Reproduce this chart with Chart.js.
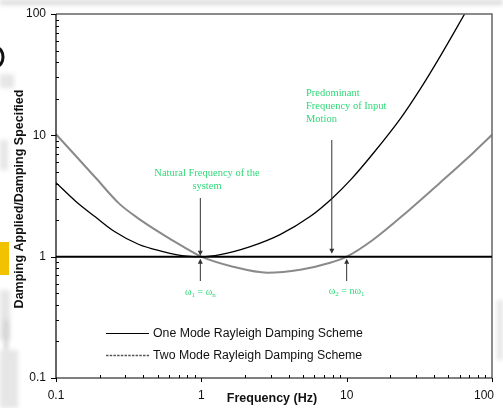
<!DOCTYPE html>
<html>
<head>
<meta charset="utf-8">
<script src="https://cdn.jsdelivr.net/npm/chart.js@4.4.1/dist/chart.umd.min.js"></script>
<style>
  html, body { margin: 0; padding: 0; background: #fff; }
  #wrap { width: 503px; height: 408px; position: relative; }
  canvas { display: block; }
</style>
</head>
<body>
<div id="wrap"><canvas id="c" width="503" height="408"></canvas></div>
<script>
// Axis ticks (log decades)
const frequencyTicks = [0.1, 1, 10, 100];
const ratioTicks = [0.1, 1, 10, 100];

// One Mode Rayleigh Damping Scheme
const oneModeFreq  = [0.1, 0.137, 0.188, 0.251, 0.372, 0.545, 0.67, 0.8, 1.0, 1.35, 2.17, 3.48, 5.6, 7.93, 10.6, 15.2, 23.5, 31.8, 43.9, 65.4];
const oneModeRatio = [4.07, 2.85, 2.11, 1.62, 1.26, 1.10, 1.04, 1.01, 1.0, 1.04, 1.21, 1.52, 2.14, 3.02, 4.27, 7.08, 13.8, 23.7, 44.6, 102];

// Two Mode Rayleigh Damping Scheme
const twoModeFreq  = [0.1, 0.137, 0.188, 0.271, 0.372, 0.545, 0.75, 1.0, 1.65, 2.85, 4.8, 7.7, 10.0, 15.2, 26.1, 43.9, 74.4, 100];
const twoModeRatio = [10.2, 6.75, 4.45, 2.75, 2.05, 1.52, 1.21, 1.0, 0.827, 0.738, 0.78, 0.89, 1.0, 1.38, 2.35, 4.07, 7.2, 10.1];

// Reference level and marked frequencies
const specifiedRatio = 1;
const naturalFreq = 1;      // ω1 = ωn
const inputFreq = 7.9;      // predominant input frequency
const secondFreq = 10;      // ω2 = nω1

const legendLabels = ['One Mode Rayleigh Damping Scheme', 'Two Mode Rayleigh Damping Scheme'];

const toPoints = (xs, ys) => xs.map((x, i) => ({ x: x, y: ys[i] }));

const GREEN = '#2fd877';
const SANS = '"Liberation Sans", Arial, sans-serif';
const SERIF = '"Liberation Serif", "Times New Roman", serif';

function arrow(ctx, x, yFrom, yTip) {
  const d = yTip > yFrom ? 1 : -1;
  ctx.save();
  ctx.strokeStyle = '#333';
  ctx.fillStyle = '#333';
  ctx.lineWidth = 1;
  ctx.beginPath();
  ctx.moveTo(x, yFrom);
  ctx.lineTo(x, yTip - d * 2);
  ctx.stroke();
  ctx.beginPath();
  ctx.moveTo(x - 2.5, yTip - 5 * d);
  ctx.lineTo(x, yTip);
  ctx.lineTo(x + 2.5, yTip - 5 * d);
  ctx.closePath();
  ctx.fill();
  ctx.restore();
}

// draws text pieces with optional subscripts, centred on cx
function subText(ctx, parts, cx, cy, size) {
  const big = size + 'px ' + SERIF;
  const small = Math.round(size * 0.7) + 'px ' + SERIF;
  let w = 0;
  parts.forEach(p => { ctx.font = p[1] ? small : big; w += ctx.measureText(p[0]).width; });
  let x = cx - w / 2;
  ctx.textAlign = 'left';
  ctx.textBaseline = 'middle';
  parts.forEach(p => {
    ctx.font = p[1] ? small : big;
    ctx.fillText(p[0], x, p[1] ? cy + 3 : cy);
    x += ctx.measureText(p[0]).width;
  });
}

const decorations = {
  id: 'decorations',
  beforeDraw(chart) {
    const ctx = chart.ctx;
    const W = chart.width, H = chart.height;
    ctx.save();
    ctx.fillStyle = '#ffffff';
    ctx.fillRect(0, 0, W, H);
    // faint backdrop around the frame
    ctx.filter = 'blur(2px)';
    ctx.fillStyle = '#dcdcdc';
    ctx.fillRect(0, 0, W, 5);
    ctx.fillStyle = '#e6e6e6';
    ctx.fillRect(0, 74, 14, 14);
    ctx.fillRect(0, 140, 8, 30);
    ctx.fillRect(0, 290, 10, 50);
    ctx.fillRect(0, 350, 18, 58);
    ctx.fillRect(497, 300, 6, 60);
    ctx.fillStyle = '#d0d0d0';
    ctx.fillRect(4, 320, 4, 30);
    ctx.filter = 'none';
    ctx.fillStyle = '#f2c200';
    ctx.fillRect(0, 242, 9, 33);
    ctx.strokeStyle = '#111';
    ctx.lineWidth = 3;
    ctx.beginPath();
    ctx.ellipse(-3, 57, 6, 9, 0, -Math.PI / 2, Math.PI / 2);
    ctx.stroke();
    ctx.restore();
  },
  afterDatasetsDraw(chart) {
    const ctx = chart.ctx;
    const xs = chart.scales.x, ys = chart.scales.y;
    const a = chart.chartArea;
    ctx.save();

    // frame: light top/right edges, black axes
    ctx.strokeStyle = '#666';
    ctx.lineWidth = 1.5;
    ctx.beginPath();
    ctx.moveTo(a.left, a.top); ctx.lineTo(a.right, a.top); ctx.lineTo(a.right, a.bottom);
    ctx.stroke();
    ctx.strokeStyle = '#000';
    ctx.lineWidth = 1.2;
    ctx.beginPath();
    ctx.moveTo(a.left, a.top); ctx.lineTo(a.left, a.bottom); ctx.lineTo(a.right, a.bottom);
    ctx.stroke();

    // minor and major ticks
    ctx.lineWidth = 1;
    ctx.beginPath();
    for (let d = 0; d < ratioTicks.length - 1; d++) {
      for (let k = 2; k <= 9; k++) {
        const py = Math.round(ys.getPixelForValue(ratioTicks[d] * k)) + 0.5;
        ctx.moveTo(a.left, py); ctx.lineTo(a.left + 3, py);
      }
    }
    for (let d = 0; d < frequencyTicks.length - 1; d++) {
      for (let k = 2; k <= 9; k++) {
        const px = Math.round(xs.getPixelForValue(frequencyTicks[d] * k)) + 0.5;
        ctx.moveTo(px, a.bottom); ctx.lineTo(px, a.bottom - 3);
      }
    }
    ratioTicks.forEach(v => {
      const py = Math.round(ys.getPixelForValue(v)) + 0.5;
      ctx.moveTo(a.left - 5, py); ctx.lineTo(a.left, py);
    });
    frequencyTicks.forEach(v => {
      const px = Math.round(xs.getPixelForValue(v)) + 0.5;
      ctx.moveTo(px, a.bottom); ctx.lineTo(px, a.bottom + 4);
    });
    ctx.stroke();

    // tick labels
    ctx.fillStyle = '#111';
    ctx.font = '12px ' + SANS;
    ctx.textAlign = 'right';
    ctx.textBaseline = 'middle';
    ratioTicks.forEach(v => ctx.fillText(String(v), a.left - 10, ys.getPixelForValue(v)));
    ctx.textAlign = 'center';
    frequencyTicks.forEach((v, i) => {
      let px = xs.getPixelForValue(v);
      if (i === frequencyTicks.length - 1) px -= 8;
      ctx.fillText(String(v), px, 396);
    });

    // axis titles
    ctx.font = 'bold 12.5px ' + SANS;
    ctx.fillText('Frequency (Hz)', 272, 399);
    ctx.save();
    ctx.translate(20, 199);
    ctx.rotate(-Math.PI / 2);
    ctx.fillText('Damping Applied/Damping Specified', 0, 0);
    ctx.restore();

    // specified-damping reference line
    const y1 = ys.getPixelForValue(specifiedRatio);
    ctx.strokeStyle = '#000';
    ctx.lineWidth = 2;
    ctx.beginPath();
    ctx.moveTo(a.left, y1); ctx.lineTo(a.right, y1);
    ctx.stroke();

    // annotations
    const xn = xs.getPixelForValue(naturalFreq) - 1;
    const xi = xs.getPixelForValue(inputFreq);
    const x2 = xs.getPixelForValue(secondFreq);
    arrow(ctx, xn, 198, y1 - 1);
    arrow(ctx, xn, 281, y1 + 2);
    arrow(ctx, xi, 140, y1 - 3);
    arrow(ctx, x2, 281, y1 + 2);

    ctx.fillStyle = GREEN;
    ctx.font = '10.5px ' + SERIF;
    ctx.textAlign = 'center';
    ctx.textBaseline = 'middle';
    ctx.fillText('Natural Frequency of the', 207, 173);
    ctx.fillText('system', 207, 186);
    ctx.textAlign = 'left';
    ctx.fillText('Predominant', 306, 93);
    ctx.fillText('Frequency of Input', 306, 106);
    ctx.fillText('Motion', 306, 119);
    subText(ctx, [['ω', false], ['1', true], [' = ω', false], ['n', true]], xn, 292, 10);
    subText(ctx, [['ω', false], ['2', true], [' = nω', false], ['1', true]], x2, 291, 10);

    // legend
    const ds = chart.data.datasets;
    const rows = [333.5, 355.5];
    ds.forEach((d, i) => {
      ctx.save();
      ctx.strokeStyle = i === 0 ? '#000' : '#555';
      ctx.lineWidth = i === 0 ? 1 : 1.6;
      if (i === 1) ctx.setLineDash([2.5, 1.2]);
      ctx.beginPath();
      ctx.moveTo(106, rows[i]); ctx.lineTo(149, rows[i]);
      ctx.stroke();
      ctx.restore();
      ctx.fillStyle = '#111';
      ctx.font = '12.3px ' + SANS;
      ctx.textAlign = 'left';
      ctx.textBaseline = 'middle';
      ctx.fillText(d.label, 153, rows[i]);
    });

    ctx.restore();
  }
};

new Chart(document.getElementById('c'), {
  type: 'line',
  data: {
    datasets: [
      {
        label: legendLabels[0],
        data: toPoints(oneModeFreq, oneModeRatio),
        borderColor: '#000',
        borderWidth: 1.3,
        pointRadius: 0,
        cubicInterpolationMode: 'monotone',
        fill: false
      },
      {
        label: legendLabels[1],
        data: toPoints(twoModeFreq, twoModeRatio),
        borderColor: '#8a8a8a',
        borderWidth: 2,
        pointRadius: 0,
        cubicInterpolationMode: 'monotone',
        fill: false
      }
    ]
  },
  options: {
    responsive: false,
    animation: false,
    devicePixelRatio: 1,
    layout: { padding: { left: 56, right: 11, top: 14, bottom: 30 } },
    plugins: { legend: { display: false }, tooltip: { enabled: false } },
    scales: {
      x: { type: 'logarithmic', min: frequencyTicks[0], max: frequencyTicks[frequencyTicks.length - 1], display: false },
      y: { type: 'logarithmic', min: ratioTicks[0], max: ratioTicks[ratioTicks.length - 1], display: false }
    }
  },
  plugins: [decorations]
});
</script>
</body>
</html>
